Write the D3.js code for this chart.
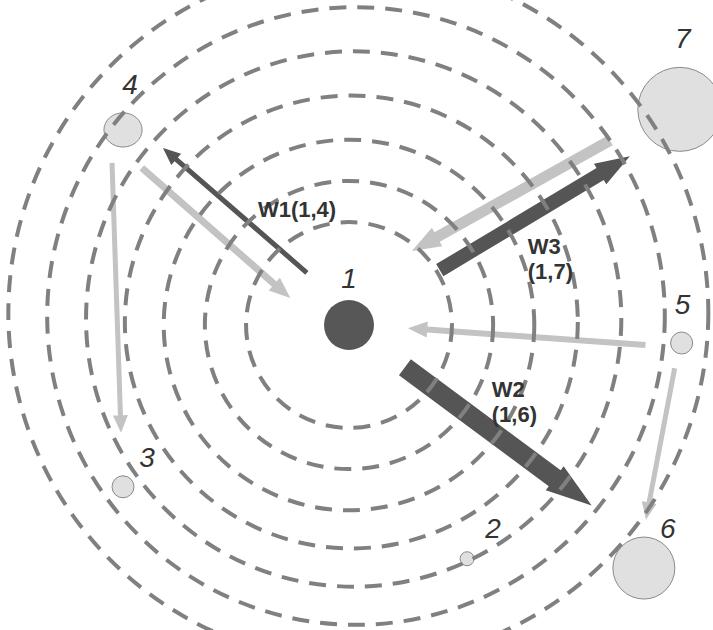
<!DOCTYPE html>
<html><head><meta charset="utf-8">
<script src="https://cdn.jsdelivr.net/npm/d3@7"></script>
<style>html,body{margin:0;padding:0;background:#fff;} svg{display:block}</style>
</head><body><svg id="chart" width="713" height="630"></svg>
<script>
// ---- data ----
const nodeIds    = ["1", "2", "3", "4", "5", "6", "7"];
const nodeAngle  = [0, -63.2, 215.6, 139.2, -3.1, -39.5, 33.1];   // degrees, counter-clockwise from east
const nodeDist   = [0, 6.36, 6.75, 7.25, 8.09, 9.28, 9.59];         // ring units from node 1
const nodeSize   = [62.5, 4.9, 12.1, 32.4, 12.1, 96, 176.4];
const ringLevels = [2.5, 3.5, 4.5, 5.5, 6.5, 7.5, 8.5];

const linkIds    = ["W1", "W2", "W3", "L1", "L2", "L3", "L4", "L5"];
const linkFrom   = ["1", "1", "1", "4", "4", "5", "5", "7"];
const linkTo     = ["4", "6", "7", "1", "3", "1", "6", "1"];
const linkWeight = [1.0, 4.0, 2.8, 1.4, 1.0, 1.2, 1.0, 2.2];
const linkKind   = ["w", "w", "w", "r", "r", "r", "r", "r"];
const linkLabels = [["W1(1,4)"], ["W2", "(1,6)"], ["W3", "(1,7)"], [], [], [], [], []];

// ---- layout ----
const W = 713, H = 630;
const center = [349, 325];
const linkTrim  = [[66, 42], [70, 80], [106, 67.5], [39, 62], [33, 54], [36, 59], [26, 48], [75.5, 93]];
const linkShift = [[12, 12.5], [-3, -15], [3.6, 12], [16.4, 18], [11, 2], [-4, 0], [2.7, 6], [12, 27.6]];
const linkLabelOff = [[23, 7], [-6.5, -39.5], [-7, 41], [0,0],[0,0],[0,0],[0,0],[0,0]];
const nodeLabelOff = [[0, -37], [26, -21], [24, -20], [7, -36], [1, -29], [24, -30], [3, -61]];

const svg = d3.select("#chart");
const rad = d3.scaleLinear().domain([0, 8.5]).range([0, 350]);
const size = d3.scaleSqrt().domain([0, 176.4]).range([0, 42]);
const width = d3.scaleLinear().domain([0, 4]).range([0, 20]);
const driftX = d3.scaleLinear().domain([4.5, 7.5]).range([0, 7]);
const driftY = d3.scaleLinear().domain([4.5, 7.5]).range([0, -9]);

const nodes = nodeIds.map((id, i) => {
  const a = nodeAngle[i] * Math.PI / 180, r = rad(nodeDist[i]);
  return {id, x: center[0] + r * Math.cos(a), y: center[1] - r * Math.sin(a), r: size(nodeSize[i]), lo: nodeLabelOff[i], i};
});
const byId = Object.fromEntries(nodes.map(n => [n.id, n]));

const links = linkIds.map((id, i) => {
  const A = byId[linkFrom[i]], B = byId[linkTo[i]];
  const dx = B.x - A.x, dy = B.y - A.y, L = Math.hypot(dx, dy), ux = dx / L, uy = dy / L, px = -uy, py = ux;
  const [s, e] = linkTrim[i], [o1, o2] = linkShift[i];
  const x1 = A.x + ux * s + px * o1, y1 = A.y + uy * s + py * o1;
  const x2 = A.x + ux * (L - e) + px * o2, y2 = A.y + uy * (L - e) + py * o2;
  const w = width(linkWeight[i]);
  return {id, x1, y1, x2, y2, w, kind: linkKind[i], labels: linkLabels[i], lo: linkLabelOff[i]};
});

function arrowPath(d) {
  const {x1, y1, x2, y2, w} = d;
  const hw = w + 10, hl = w * 1.9 + 8;
  const dx = x2 - x1, dy = y2 - y1, L = Math.hypot(dx, dy), ux = dx / L, uy = dy / L, px = -uy, py = ux;
  const bx = x2 - ux * hl, by = y2 - uy * hl;
  const pts = [
    [x1 + px * w / 2, y1 + py * w / 2],
    [bx + px * w / 2, by + py * w / 2],
    [bx + px * hw / 2, by + py * hw / 2],
    [x2, y2],
    [bx - px * hw / 2, by - py * hw / 2],
    [bx - px * w / 2, by - py * w / 2],
    [x1 - px * w / 2, y1 - py * w / 2]];
  return d3.line()(pts) + "Z";
}

svg.append("g").selectAll("path").data(links).join("path")
  .attr("d", arrowPath)
  .attr("fill", d => d.kind === "w" ? "#555555" : "#c3c3c3");

svg.append("g").selectAll("ellipse").data(nodes).join("ellipse")
  .attr("cx", d => d.x).attr("cy", d => d.y)
  .attr("rx", d => d.id === "4" ? d.r * 1.06 : d.r)
  .attr("ry", d => d.id === "4" ? d.r * 0.95 : d.r)
  .attr("fill", d => d.id === "1" ? "#575757" : "#e0e0e0")
  .attr("stroke", d => d.id === "1" ? "none" : "#8a8a8a")
  .attr("stroke-width", 1);

svg.append("g").selectAll("circle").data(ringLevels).join("circle")
  .attr("cx", d => center[0] + driftX(Math.max(d, 4.5)))
  .attr("cy", d => center[1] + driftY(Math.max(d, 4.5)))
  .attr("r", d => rad(d))
  .attr("fill", "none")
  .attr("stroke", "#808080")
  .attr("stroke-width", 4)
  .attr("stroke-dasharray", "17 11");

svg.append("g").selectAll("text").data(nodes).join("text")
  .attr("x", d => d.x + d.lo[0]).attr("y", d => d.y + d.lo[1])
  .attr("text-anchor", "middle")
  .attr("font-family", "'Liberation Sans', Arial, sans-serif")
  .attr("font-style", "italic")
  .attr("font-size", 28)
  .attr("fill", "#333")
  .text(d => d.id);

const lg = svg.append("g").selectAll("text").data(links.filter(d => d.labels.length)).join("text")
  .attr("font-family", "'Liberation Sans', Arial, sans-serif")
  .attr("font-weight", "bold")
  .attr("font-size", 22)
  .attr("fill", "#333");
lg.selectAll("tspan").data(d => d.labels.map((t, k) => ({t, k, d}))).join("tspan")
  .attr("x", o => (o.d.x1 + o.d.x2) / 2 + o.d.lo[0])
  .attr("y", o => (o.d.y1 + o.d.y2) / 2 + o.d.lo[1] + o.k * 25)
  .text(o => o.t);
</script>
</body></html>
